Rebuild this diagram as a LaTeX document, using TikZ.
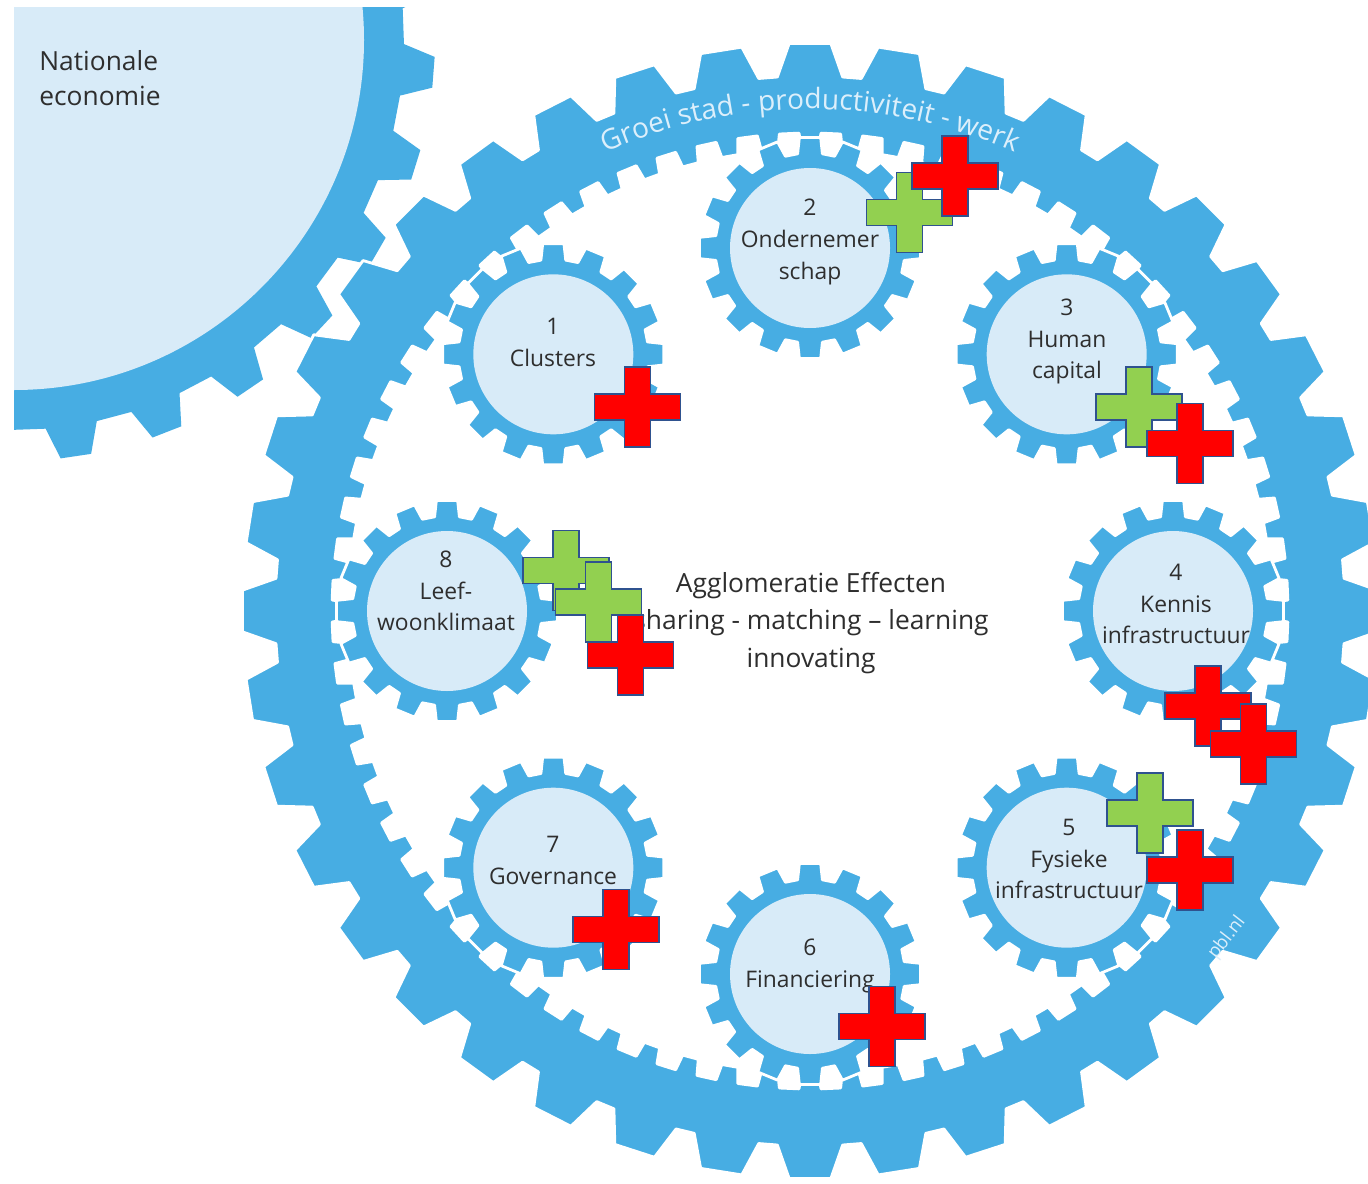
\documentclass[tikz,border=0pt]{standalone}
\usepackage{fontspec}
\setmainfont{Open Sans}
\usetikzlibrary{decorations.text}
\definecolor{gearblue}{HTML}{47ADE3}
\definecolor{gearlight}{HTML}{D8EBF8}
\definecolor{labelgray}{HTML}{2E2E2E}
\definecolor{plusred}{HTML}{FF0000}
\definecolor{plusgreen}{HTML}{92D050}
\definecolor{plusedge}{HTML}{2F528F}
\definecolor{ringtext}{HTML}{DCEFFB}

% #1 teeth, #2 root radius, #3 tip radius, #4 half base angle, #5 half tip angle, #6 offset angle
\newcommand{\gearteeth}[6]{%
  ({#6-#4}:#2)
  \foreach \k in {1,...,#1}{
    -- ({#6+(\k-1)*(360/#1)-#4}:#2)
    -- ({#6+(\k-1)*(360/#1)-#5}:#3)
    -- ({#6+(\k-1)*(360/#1)+#5}:#3)
    -- ({#6+(\k-1)*(360/#1)+#4}:#2)
  } -- cycle
}

\tikzset{
  gearfill/.style={fill=gearblue},
  gearedge/.style={draw=white, line width=1.6pt, line join=round},
  gearlabel/.style={font=\fontsize{13}{18}\selectfont, text=labelgray, align=center, inner sep=0pt},
  plusmark/.style={draw=plusedge, line width=1.1pt, line join=miter},
  pics/plussign/.style={code={
    \path[pic actions] (-43,-13) -- (-13,-13) -- (-13,-40) -- (13,-40) -- (13,-13) -- (43,-13)
      -- (43,13) -- (13,13) -- (13,40) -- (-13,40) -- (-13,13) -- (-43,13) -- cycle;
  }},
}

\begin{document}
\begin{tikzpicture}[x=0.02cm, y=-0.02cm]
\useasboundingbox (0,0) rectangle (1368,1183);
\fill[white] (0,0) rectangle (1368,1183);
\clip (0,0) rectangle (1368,1183);

\coordinate (nat) at (14,40);
\coordinate (ring) at (810,611);
\foreach \i/\a in {1/-135,2/-90,3/-45,4/0,5/45,6/90,7/135,8/180}{
  \path (ring) ++(\a:363) coordinate (g\i);
}

% national economy gear
\begin{scope}
  \clip (14,7) rectangle (1368,1183);
  \path[gearfill, shift={(nat)}] \gearteeth{28}{390}{421}{3.8}{2.1}{4.4};
  \fill[gearlight] (nat) circle[radius=350];
\end{scope}
\node[font=\fontsize{15}{19.8}\selectfont, text=labelgray, align=left, anchor=west, inner sep=0pt] (nattext) at (39,78) {Nationale\\economie};

% big ring gear
\path[gearfill, gearedge, even odd rule, shift={(ring)}]
  \gearteeth{40}{535}{568}{3.5}{2.1}{0}
  \gearteeth{72}{478}{462}{1.32}{1.0}{0};

\path[decorate, decoration={text along path, text align=center,
  text={|\fontsize{16}{16}\selectfont\color{ringtext}|Groei stad - productiviteit - werk}}]
  (ring) ++(-135:502) arc[start angle=-135, end angle=-45, radius=502];

\node[rotate=52, text=ringtext, font=\fontsize{10.5}{10.5}\selectfont, inner sep=0pt] (pbl) at (1227,938) {pbl.nl};

% small gears
\foreach \i in {1,...,8}{
  \path[gearfill, gearedge, shift={(g\i)}] \gearteeth{16}{95}{111}{7.5}{5.5}{0};
  \fill[gearlight] (g\i) circle[radius=80];
}

% labels
\node[gearlabel] (l1) at (553,342.5) {1\\Clusters};
\node[gearlabel] (l2) at (810,242) {2\\Ondernemer\\schap};
\node[gearlabel] (l3) at (1067,341.5) {3\\Human\\capital};
\node[gearlabel] (l4) at (1176,604) {4\\Kennis\\infrastructuur};
\node[gearlabel] (l5) at (1069,859) {5\\Fysieke\\infrastructuur};
\node[gearlabel] (l6) at (810,966) {6\\Financiering};
\node[gearlabel] (l7) at (553,860.5) {7\\Governance};
\node[gearlabel] (l8) at (446,591) {8\\Leef-\\woonklimaat};

\node[font=\fontsize{15}{21.3}\selectfont, text=labelgray, align=center, inner sep=0pt] (agglo) at (811,623)
  {Agglomeratie Effecten\\sharing - matching – learning\\innovating};

% plus signs
\pic[plusmark, fill=plusred] (p1) at (637.5,407) {plussign};
\pic[plusmark, fill=plusgreen] (p2g) at (909.5,212.5) {plussign};
\pic[plusmark, fill=plusred] (p2r) at (955,176) {plussign};
\pic[plusmark, fill=plusgreen] (p3g) at (1139,407) {plussign};
\pic[plusmark, fill=plusred] (p3r) at (1190,443.5) {plussign};
\pic[plusmark, fill=plusred] (p4a) at (1208,706) {plussign};
\pic[plusmark, fill=plusred] (p4b) at (1253.5,744) {plussign};
\pic[plusmark, fill=plusgreen] (p5g) at (1150,813) {plussign};
\pic[plusmark, fill=plusred] (p5r) at (1190,870) {plussign};
\pic[plusmark, fill=plusred] (p6) at (882,1026.5) {plussign};
\pic[plusmark, fill=plusred] (p7) at (616,929.5) {plussign};
\pic[plusmark, fill=plusgreen] (p8a) at (566,570.5) {plussign};
\pic[plusmark, fill=plusgreen] (p8b) at (598.5,602) {plussign};
\pic[plusmark, fill=plusred] (p8r) at (630.5,655) {plussign};
\end{tikzpicture}
\end{document}
